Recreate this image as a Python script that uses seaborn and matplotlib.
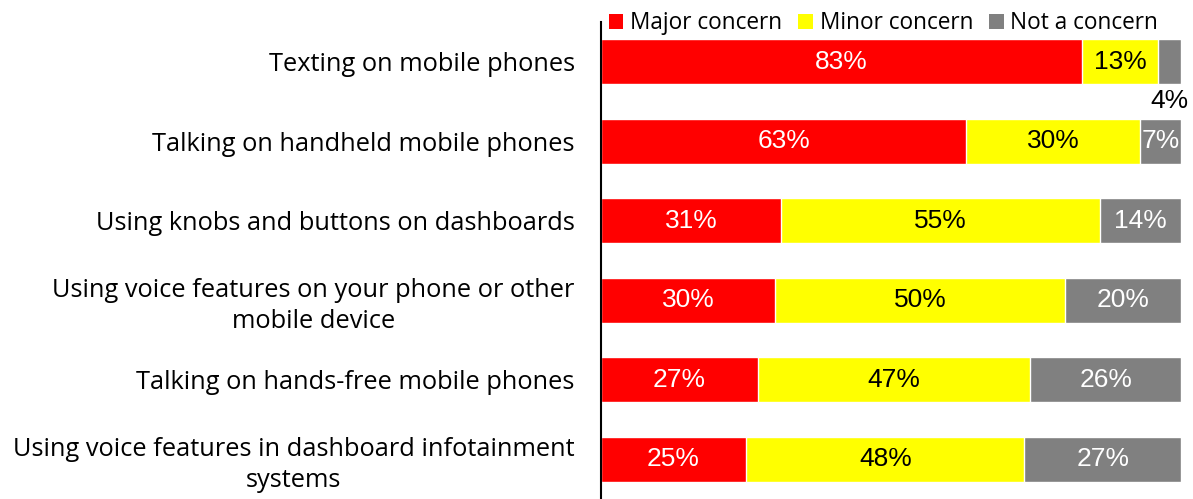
import matplotlib
matplotlib.use("Agg")
import matplotlib.pyplot as plt
import pandas as pd
import seaborn as sns
from matplotlib.patches import Patch

categorias = [
    "Texting on mobile phones",
    "Talking on handheld mobile phones",
    "Using knobs and buttons on dashboards",
    "Using voice features on your phone or other\nmobile device",
    "Talking on hands-free mobile phones",
    "Using voice features in dashboard infotainment\nsystems",
]
major = [83, 63, 31, 30, 27, 25]
minor = [13, 30, 55, 50, 47, 48]
not_concern = [4, 7, 14, 20, 26, 27]

series = ["Major concern", "Minor concern", "Not a concern"]
colores = ["#FF0000", "#FFFF00", "#808080"]
color_texto = ["white", "black", "white"]

df = pd.DataFrame({
    "categoria": categorias,
    "Major concern": major,
    "Minor concern": minor,
    "Not a concern": not_concern,
})
acum = df[series].cumsum(axis=1)

sns.set_style("white")
plt.rcParams["font.family"] = ["Liberation Sans", "DejaVu Sans"]
plt.rcParams["text.color"] = "black"
plt.rcParams["ytick.color"] = "black"

fig = plt.figure(figsize=(11.93, 4.99), dpi=100)
ax = fig.add_axes([0.5038, 0.0, 0.4862, 0.956])

# barras apiladas: se dibuja el acumulado de mayor a menor
for serie, color in reversed(list(zip(series, colores))):
    sns.barplot(x=acum[serie], y=df["categoria"], color=color, orient="h",
                width=0.57, saturation=1, ax=ax)

for i in range(len(categorias)):
    inicio = 0
    for serie, ct in zip(series, color_texto):
        v = df[serie].iloc[i]
        centro = inicio + v / 2
        if v < 5:
            ax.text(centro, i + 0.49, f"{v}%", ha="center", va="center",
                    fontsize=19, color="black")
        else:
            ax.text(centro, i, f"{v}%", ha="center", va="center",
                    fontsize=19, color=ct)
        inicio += v

ax.set_xlim(0, 100)
ax.set_ylim(len(categorias) - 0.5, -0.5)
ax.set_xlabel("")
ax.set_ylabel("")
ax.set_xticks([])
for s in ["top", "right", "bottom"]:
    ax.spines[s].set_visible(False)
ax.spines["left"].set_color("black")
ax.spines["left"].set_linewidth(1.5)
ax.tick_params(axis="y", length=0, pad=19, colors="black")
for lbl in ax.get_yticklabels():
    lbl.set_fontfamily(["Open Sans", "DejaVu Sans"])
    lbl.set_fontsize(18.3)
    lbl.set_multialignment("center")
    lbl.set_linespacing(1.3)
    lbl.set_color("black")

handles = [Patch(facecolor=c, edgecolor="none") for c in colores]
fig.legend(handles, series, loc="upper left", bbox_to_anchor=(0.493, 1.018),
           ncol=3, frameon=False, handlelength=0.65, handleheight=0.65,
           handletextpad=0.3, columnspacing=0.7,
           prop={"family": ["Open Sans", "DejaVu Sans"], "size": 16.3})

fig.savefig("out.png", dpi=100)
